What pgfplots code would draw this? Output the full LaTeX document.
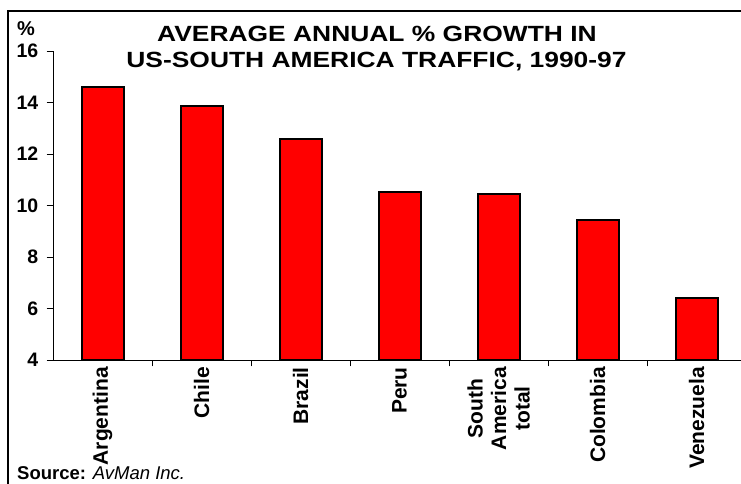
\documentclass[border=0pt]{standalone}
\usepackage{fontspec}
\setmainfont{Liberation Sans}
\newfontfamily\titlefont{Liberation Sans}[FakeStretch=1.2]
\usepackage{pgfplots}
\pgfplotsset{compat=1.18}
\begin{document}
\begin{tikzpicture}[x=1pt,y=1pt]
\useasboundingbox (0,0) rectangle (741,484);
\draw[line width=1.5pt] (8,-30) -- (8,473) -- (780,473);
\begin{axis}[
  at={(53pt,124pt)}, anchor=south west,
  scale only axis, width=693pt, height=309pt,
  xmin=-0.5, xmax=6.5, ymin=4, ymax=16,
  axis lines*=left,
  axis line style={black, line width=0.8pt},
  tick style={black, line width=0.8pt},
  tick align=outside, major tick length=6.5pt,
  ytick={4,6,...,16},
  xtick={0.5,1.5,...,5.5}, xticklabels={},
  extra x ticks={0,1,2,3,4,5,6},
  extra x tick labels={Argentina, Chile, Brazil, Peru, {South\\America\\total}, Colombia, Venezuela},
  extra x tick style={major tick length=0pt, tick label style={rotate=90, anchor=east, align=center, inner sep=7pt, font=\bfseries\fontsize{21}{23.5}\selectfont}},
  y tick label style={font=\bfseries\fontsize{19.5}{24}\selectfont, inner sep=8pt},
  /pgf/number format/assume math mode=true,
  clip=true,
]
\addplot[ybar, bar width=42pt, fill=red, draw=black, line width=2pt] coordinates {(0,14.62) (1,13.85) (2,12.6) (3,10.52) (4,10.45) (5,9.43) (6,6.4)};
\end{axis}
\node[anchor=base, font=\titlefont\bfseries\fontsize{22}{26}\selectfont] at (377,442.3) {AVERAGE ANNUAL \% GROWTH IN};
\node[anchor=base, font=\titlefont\bfseries\fontsize{22}{26}\selectfont] at (376.5,416.7) {US-SOUTH AMERICA TRAFFIC, 1990-97};
\node[anchor=base west, inner sep=0pt, font=\bfseries\fontsize{20}{24}\selectfont] at (17,448) {\%};
\node[anchor=base west, inner sep=0pt, font=\fontsize{18.5}{22}\selectfont] at (17,4) {\textbf{Source:} \textit{AvMan Inc.}};
\end{tikzpicture}
\end{document}
